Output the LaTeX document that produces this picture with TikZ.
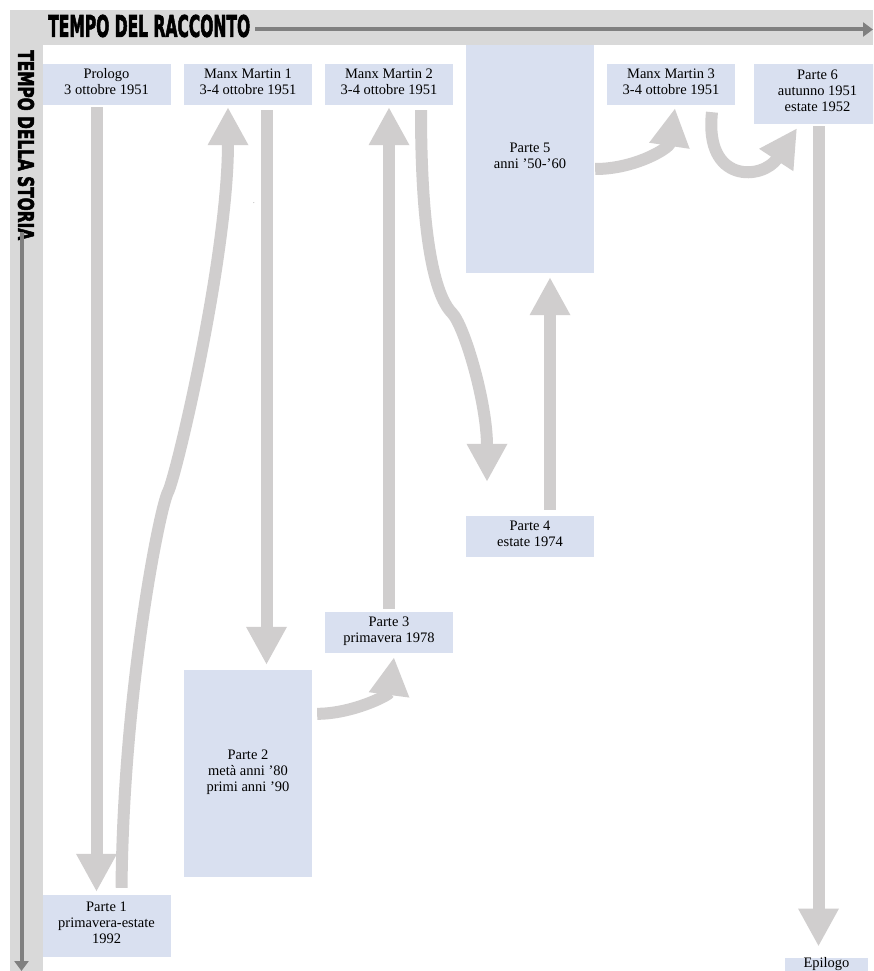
\documentclass[tikz,border=0pt]{standalone}
\usepackage{fontspec}
\setmainfont{Liberation Serif}
\newfontfamily\titlefont{DejaVu Sans}[FakeBold=3]
\usepackage{graphicx}
\usetikzlibrary{arrows.meta}

\definecolor{bandgray}{HTML}{D9D9D9}
\definecolor{axisgray}{HTML}{808080}
\definecolor{flowgray}{HTML}{D0CECE}
\definecolor{partblue}{HTML}{D9E0F0}

\tikzset{
  part/.style={fill=partblue, minimum width=128pt, minimum height=41pt, inner sep=0pt,
    align=center, text depth=6pt, font=\fontsize{14.5}{16}\selectfont},
  flow/.style={draw=flowgray, line width=12pt, -{Triangle[length=38pt,width=38pt]}},
  axis/.style={draw=axisgray, line width=4pt, -{Triangle[length=10pt,width=14pt]}}
}

\begin{document}
\begin{tikzpicture}[x=1pt, y=-1pt]
  \clip (0,0) rectangle (873,971);
  \fill[white] (0,0) rectangle (873,971);
  \fill[bandgray] (10,10) rectangle (873,45);
  \fill[bandgray] (10,10) rectangle (43,971);

  \node[anchor=west, inner sep=0pt] (racconto) at (48,26)
    {\resizebox{202pt}{22pt}{\titlefont\bfseries TEMPO DEL RACCONTO}};
  \node[anchor=west, rotate=-90, inner sep=0pt] (storia) at (26,50)
    {\resizebox{190pt}{16pt}{\titlefont\bfseries TEMPO DELLA STORIA}};
  \coordinate (raccontoend) at (873,29.5);
  \coordinate (storiastart) at (21.5,232);
  \coordinate (storiaend)   at (21.5,971);
  \draw[axis] ([xshift=5pt,yshift=-3.5pt]racconto.east) -- (raccontoend);
  \draw[axis] (storiastart) -- (storiaend);

  \node[part] (prologo) at (106.5,84.5) {Prologo\\3 ottobre 1951};
  \node[part] (mm1)     at (248,84.5)   {Manx Martin 1\\3-4 ottobre 1951};
  \node[part] (mm2)     at (389,84.5)   {Manx Martin 2\\3-4 ottobre 1951};
  \node[part, minimum height=228pt] (parte5) at (530,159) {Parte 5\\anni ’50-’60};
  \node[part] (mm3)     at (671,84.5)   {Manx Martin 3\\3-4 ottobre 1951};
  \node[part, minimum height=60pt] (parte6) at (817.5,94) {Parte 6\\autunno 1951\\estate 1952};
  \node[part] (parte4)  at (530,536.5)  {Parte 4\\estate 1974};
  \node[part] (parte3)  at (389,632.5)  {Parte 3\\primavera 1978};
  \node[part, minimum height=207pt] (parte2) at (248,773.5) {Parte 2\\metà anni ’80\\primi anni ’90};
  \node[part, minimum height=62pt] (parte1) at (106.5,926) {Parte 1\\primavera-estate\\1992};
  \node[part, minimum width=83pt, minimum height=13pt, text depth=3.5pt] (epilogo) at (826.5,964.5) {Epilogo};
  \node[font=\tiny, inner sep=0pt] (dot) at (254,203) {.};

  \coordinate (kink1) at (168,492);
  \coordinate (kink2) at (452,313);

  \draw[flow, shorten <=2pt, shorten >=3pt] ([xshift=-10pt]prologo.south) -- ([xshift=-10pt]parte1.north);
  \draw[flow] ([xshift=15pt,yshift=7pt]parte1.north) .. controls +(2,-200) and +(-8,15) .. (kink1)
    .. controls +(8,-15) and +(0,150) .. ([xshift=-20pt,yshift=-2pt]mm1.south);
  \draw[flow, shorten <=5pt, shorten >=5pt] ([xshift=18.5pt]mm1.south) -- ([xshift=18.5pt]mm1.south |- parte2.north);
  \draw[flow] ([xshift=5pt,yshift=-44pt]parte2.north east) .. controls +(35,0) and +(-5,38)
    .. ([xshift=5pt,yshift=-4pt]parte3.south);
  \draw[flow, shorten <=3pt, shorten >=2pt] (parte3.north) -- (mm2.south);
  \draw[flow] ([xshift=32pt,yshift=-5pt]mm2.south) .. controls +(0,150) and +(-12,-12) .. (kink2)
    .. controls +(12,12) and +(0,-80) .. ([xshift=-43pt,yshift=34pt]parte4.north);
  \draw[flow, shorten <=6pt, shorten >=4pt] ([xshift=20pt]parte4.north) -- ([xshift=20pt]parte4.north |- parte5.south);
  \draw[flow] ([xshift=1pt,yshift=-10pt]parte5.east) .. controls +(40,0) and +(-6,40)
    .. ([xshift=4pt,yshift=-3pt]mm3.south);
  \draw[flow] ([xshift=41pt,yshift=-7pt]mm3.south) .. controls +(-8,72) and +(-34,52)
    .. ([xshift=-20.5pt,yshift=-4pt]parte6.south);
  \draw[flow, shorten <=2pt, shorten >=11pt] ([xshift=1pt]parte6.south) -- ([xshift=1pt]parte6.south |- epilogo.north);
\end{tikzpicture}
\end{document}
